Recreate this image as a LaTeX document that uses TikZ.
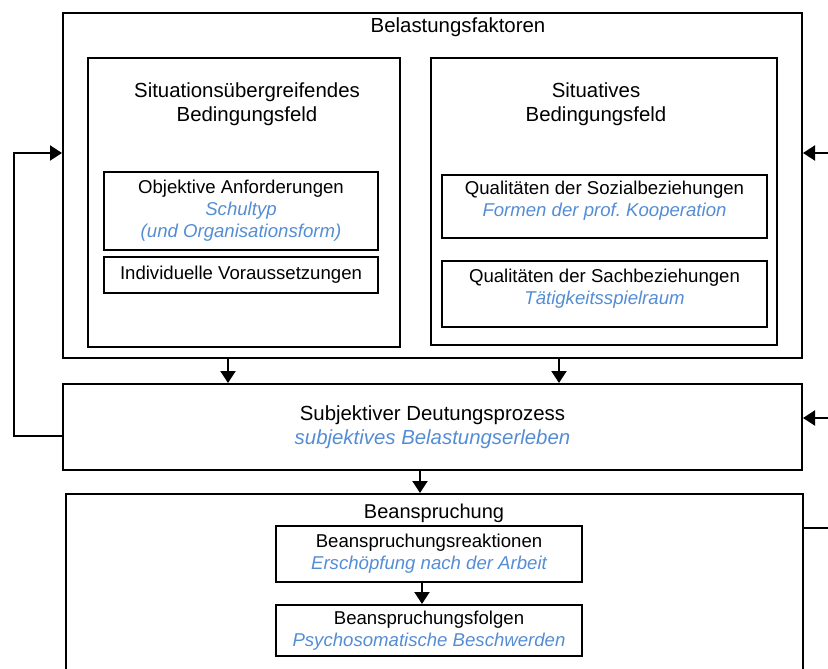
\documentclass[tikz,border=0pt]{standalone}
\usepackage{fontspec}
\setmainfont{Liberation Sans}
\usetikzlibrary{arrows.meta}
\definecolor{bluetext}{RGB}{84,141,212}
\newcommand\bluit[1]{{\color{bluetext}\itshape #1}}
\frenchspacing
\begin{document}
\begin{tikzpicture}[x=1pt,y=-1pt,
  box/.style={draw,line width=2pt,rectangle,inner sep=0pt},
  big/.style={font=\fontsize{20.4}{24}\selectfont,align=center,inner sep=0pt},
  small/.style={font=\fontsize{18.6}{22}\selectfont,align=center,inner sep=0pt},
  ln/.style={line width=2pt},
  arr/.style={line width=2pt,-{Triangle[width=15pt,length=12pt]}}]
\useasboundingbox (0,0) rectangle (828,669);
\clip (0,0) rectangle (828,669);
% boxes
\node[box,minimum width=739pt,minimum height=345pt] (outer) at (432.5,185.5) {};
\node[box,minimum width=312pt,minimum height=289pt] (left) at (244,202.5) {};
\node[box,minimum width=346pt,minimum height=287pt] (right) at (604,201.5) {};
\node[box,small,minimum width=274pt,minimum height=78pt] (obj) at (241,211)
  {Objektive Anforderungen\\\bluit{Schultyp}\\\bluit{(und Organisationsform)}};
\node[box,small,minimum width=274pt,minimum height=36pt] (ind) at (241,275)
  {Individuelle Voraussetzungen};
\node[box,minimum width=325pt,minimum height=63pt] (soz) at (604.5,206.5) {};
\node[box,minimum width=325pt,minimum height=66pt] (sach) at (604.5,294) {};
\node[box,big,minimum width=739pt,minimum height=86pt] (subj) at (432.5,427)
  {Subjektiver Deutungsprozess\\\bluit{subjektives Belastungserleben}};
\node[box,minimum width=737pt,minimum height=206pt] (bean) at (434.5,597) {};
\node[box,small,minimum width=306pt,minimum height=56pt] (reak) at (429,554)
  {Beanspruchungsreaktionen\\\bluit{Erschöpfung nach der Arbeit}};
\node[box,small,minimum width=306pt,minimum height=51pt] (folg) at (429,630.5)
  {Beanspruchungsfolgen\\\bluit{Psychosomatische Beschwerden}};
% texts
\node[big] (t1) at (458,27) {Belastungsfaktoren};
\node[big] (t2) at (247,104) {Situationsübergreifendes\\Bedingungsfeld};
\node[big] (t3) at (596,104) {Situatives\\Bedingungsfeld};
\node[small] (t4) at (604.5,201) {Qualitäten der Sozialbeziehungen\\\bluit{Formen der prof. Kooperation}};
\node[small] (t5) at (604.5,289) {Qualitäten der Sachbeziehungen\\\bluit{Tätigkeitsspielraum}};
\node[font=\fontsize{20}{24}\selectfont,inner sep=0pt] (t6) at (434,513) {Beanspruchung};
% connectors
\coordinate (c1) at (228,0);
\coordinate (c2) at (559,0);
\coordinate (c3) at (420,0);
\coordinate (c4) at (422,0);
\draw[arr] (c1 |- outer.south) -- (c1 |- subj.north);
\draw[arr] (c2 |- outer.south) -- (c2 |- subj.north);
\draw[arr] (c3 |- subj.south) -- (c3 |- bean.north);
\draw[arr] (c4 |- reak.south) -- (c4 |- folg.north);
\coordinate (r1) at (828,153);
\coordinate (r2) at (828,418);
\coordinate (r3) at (828,528);
\draw[arr] (r1) -- (outer.east |- r1);
\draw[arr] (r2) -- (subj.east |- r2);
\draw[ln] (bean.east |- r3) -- (r3);
\coordinate (fb1) at (14,436);
\coordinate (fb2) at (14,153);
\draw[arr] (subj.west |- fb1) -- (fb1) -- (fb2) -- (outer.west |- fb2);
\end{tikzpicture}
\end{document}
